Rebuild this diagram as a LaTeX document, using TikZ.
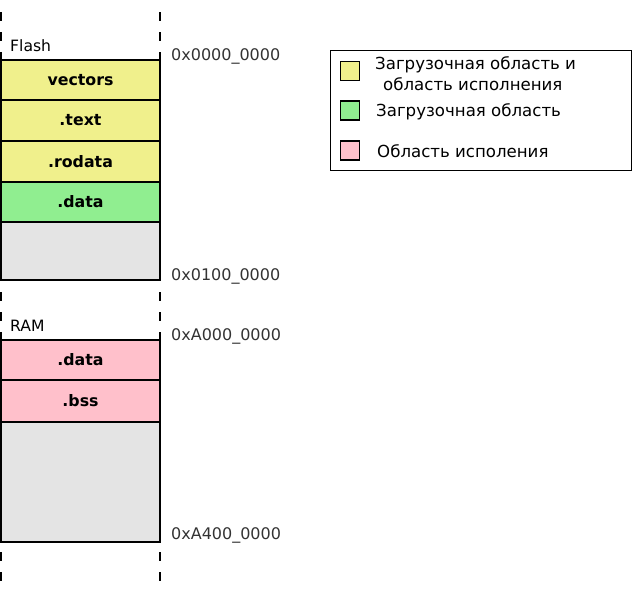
\documentclass[tikz,border=0pt]{standalone}
\usepackage{fontspec}
\setmainfont{DejaVu Sans}
\usepackage{tikz}
\usetikzlibrary{positioning}
\definecolor{loadexec}{RGB}{240,240,140}
\definecolor{loadonly}{RGB}{144,238,144}
\definecolor{execonly}{RGB}{255,192,203}
\definecolor{freemem}{RGB}{228,228,228}

\begin{document}
\begin{tikzpicture}[x=1pt,y=-1pt,
                    seg node/.style={draw,line width=1.6pt,minimum width=159pt,outer sep=0pt,inner sep=0pt,
                                     font=\bfseries\fontsize{15.8}{18}\selectfont},
                    addr node/.style={anchor=west,inner sep=0pt,text=black!80,font=\fontsize{16}{18}\selectfont},
                    key box/.style={draw,line width=1.2pt,minimum size=19pt,inner sep=0pt},
                    key text/.style={anchor=west,inner sep=0pt,align=left,font=\fontsize{16.6}{21}\selectfont},
                    guide/.style={line width=1.6pt,dash pattern=on 9pt off 11pt}]
\useasboundingbox (0,0) rectangle (641,592);

% Create dashed guides for the columns
\coordinate (left top) at (1,12);
\coordinate (left bottom) at (1,592);
\coordinate (right top) at (160,12);
\coordinate (right bottom) at (160,592);
\draw[guide] (left top) -- (left bottom);
\draw[guide] (right top) -- (right bottom);

% Create nodes for the flash region
\node[seg node,fill=loadexec,minimum height=40pt,anchor=north] (vectors) at (80.5,60) {vectors};
\node[seg node,fill=loadexec,minimum height=41pt] (text) [below=0pt of vectors] {.text};
\node[seg node,fill=loadexec,minimum height=41pt] (rodata) [below=0pt of text] {.rodata};
\node[seg node,fill=loadonly,minimum height=40pt] (flashdata) [below=0pt of rodata] {.data};
\node[seg node,fill=freemem,minimum height=58pt] (flashfree) [below=0pt of flashdata] {};
\node[anchor=west,inner sep=0pt,font=\fontsize{15.6}{18}\selectfont] (flash) at (10,46) {Flash};

% Create nodes for the RAM region
\node[seg node,fill=execonly,minimum height=40pt,anchor=north] (ramdata) at (80.5,340) {.data};
\node[seg node,fill=execonly,minimum height=42pt] (bss) [below=0pt of ramdata] {.bss};
\node[seg node,fill=freemem,minimum height=120pt] (ramfree) [below=0pt of bss] {};
\node[anchor=west,inner sep=0pt,font=\fontsize{15.6}{18}\selectfont] (ram) at (10,326) {RAM};

% Addresses
\node[addr node] (flashstart) at (171,56) {0x0000\_0000};
\node[addr node] (flashend) at (171,276) {0x0100\_0000};
\node[addr node] (ramstart) at (171,336) {0xA000\_0000};
\node[addr node] (ramend) at (171,535) {0xA400\_0000};

% Legend
\node[draw,line width=1.2pt,minimum width=301pt,minimum height=120pt,anchor=north west] (legend) at (330,50) {};
\node[key box,fill=loadexec] (key loadexec) at (350,71) {};
\node[key box,fill=loadonly] (key loadonly) at (350,110.5) {};
\node[key box,fill=execonly] (key execonly) at (350,150.5) {};
\node[key text] (label loadexec) at (375,73.5) {Загрузочная область и\\\hspace*{8pt}область исполнения};
\node[key text] (label loadonly) at (376,112) {Загрузочная область};
\node[key text] (label execonly) at (377,151) {Область исполения};
\end{tikzpicture}
\end{document}
